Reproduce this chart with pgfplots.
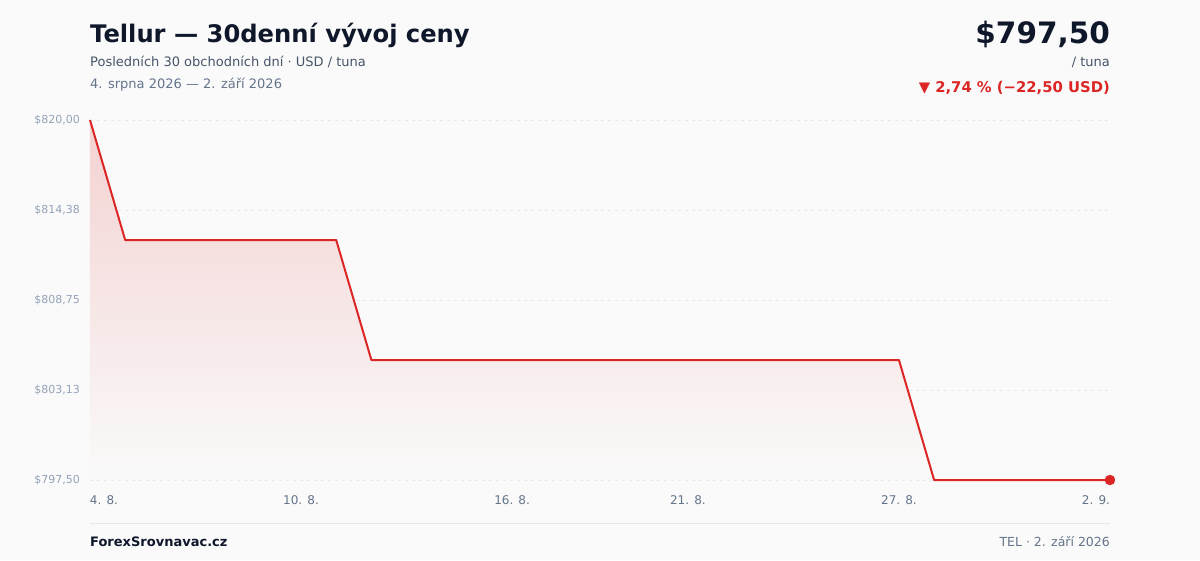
\documentclass[border=0pt]{standalone}
\usepackage{fontspec}
\setmainfont{DejaVu Sans}
\usepackage{pgfplots}
\pgfplotsset{compat=1.18}

\definecolor{bgcol}{HTML}{FAFAFA}
\definecolor{titlecol}{HTML}{0F172A}
\definecolor{subcol}{HTML}{475569}
\definecolor{datecol}{HTML}{64748B}
\definecolor{ytickcol}{HTML}{94A3B8}
\definecolor{gridcol}{HTML}{E2E8F0}
\definecolor{linecol}{HTML}{DC2626}
\definecolor{rulecol}{HTML}{E5E7EB}

\begin{document}
\begin{tikzpicture}
  \fill[bgcol] (0,0) rectangle (1200pt,-560pt);
  \useasboundingbox (0,0) rectangle (1200pt,-560pt);

  % header
  \node[anchor=base west, inner sep=0pt, text=titlecol]
    at (90pt,-42pt) {\fontsize{24.2}{29}\selectfont\bfseries Tellur — 30denní vývoj ceny};
  \node[anchor=base west, inner sep=0pt, text=subcol]
    at (90pt,-66pt) {\fontsize{13}{16}\selectfont Posledních 30 obchodních dní · USD / tuna};
  \node[anchor=base west, inner sep=0pt, text=datecol]
    at (90pt,-88pt) {\fontsize{13}{16}\selectfont 4. srpna 2026 — 2. září 2026};
  \node[anchor=base east, inner sep=0pt, text=titlecol]
    at (1110pt,-43pt) {\fontsize{29.5}{34}\selectfont\bfseries \$797,50};
  \node[anchor=base east, inner sep=0pt, text=subcol]
    at (1110pt,-66pt) {\fontsize{13}{16}\selectfont / tuna};
  \node[anchor=base east, inner sep=0pt, text=linecol]
    at (1110pt,-92pt) {\fontsize{14.8}{17}\selectfont\bfseries ▼ 2,74 \% (−22,50 USD)};

  \begin{axis}[
    at={(90pt,-480pt)}, anchor=south west,
    scale only axis,
    width=1020pt, height=360pt,
    xmin=0, xmax=29,
    ymin=797.5, ymax=820,
    axis line style={draw=none},
    tick style={draw=none},
    xtick={0,6,12,17,23,29},
    xticklabels={\makebox[0pt][l]{4. 8.},10. 8.,16. 8.,21. 8.,27. 8.,\makebox[0pt][r]{2. 9.}},
    xticklabel style={font=\fontsize{12}{14}\selectfont, text=datecol, anchor=north, inner sep=0pt, yshift=-15pt},
    ytick={797.5,803.125,808.75,814.375,820},
    yticklabels={{\$797,50},{\$803,13},{\$808,75},{\$814,38},{\$820,00}},
    yticklabel style={font=\fontsize{11}{13}\selectfont, text=ytickcol, anchor=east, inner sep=0pt, xshift=-10pt},
    ymajorgrids=true,
    grid style={gridcol, line width=1pt, dash pattern=on 3pt off 4pt},
    clip=false,
  ]
    \addplot[draw=none, shading=axis, top color=linecol!19!bgcol, bottom color=bgcol]
      coordinates {
        (0,820) (1,812.5) (2,812.5) (3,812.5) (4,812.5) (5,812.5) (6,812.5) (7,812.5)
        (8,805) (9,805) (10,805) (11,805) (12,805) (13,805) (14,805) (15,805)
        (16,805) (17,805) (18,805) (19,805) (20,805) (21,805) (22,805) (23,805)
        (24,797.5) (25,797.5) (26,797.5) (27,797.5) (28,797.5) (29,797.5)
      } \closedcycle;
    \addplot[linecol, line width=2pt, line join=round, mark=none]
      coordinates {
        (0,820) (1,812.5) (2,812.5) (3,812.5) (4,812.5) (5,812.5) (6,812.5) (7,812.5)
        (8,805) (9,805) (10,805) (11,805) (12,805) (13,805) (14,805) (15,805)
        (16,805) (17,805) (18,805) (19,805) (20,805) (21,805) (22,805) (23,805)
        (24,797.5) (25,797.5) (26,797.5) (27,797.5) (28,797.5) (29,797.5)
      };
    \addplot[only marks, mark=*, mark size=5pt, mark options={fill=linecol, draw=linecol}]
      coordinates {(29,797.5)};
  \end{axis}

  % footer
  \draw[rulecol, line width=1pt] (90pt,-523pt) -- (1110pt,-523pt);
  \node[anchor=base west, inner sep=0pt, text=titlecol]
    at (90pt,-546pt) {\fontsize{13}{16}\selectfont\bfseries ForexSrovnavac.cz};
  \node[anchor=base east, inner sep=0pt, text=datecol]
    at (1110pt,-546pt) {\fontsize{12.5}{15}\selectfont TEL · 2. září 2026};
\end{tikzpicture}
\end{document}
